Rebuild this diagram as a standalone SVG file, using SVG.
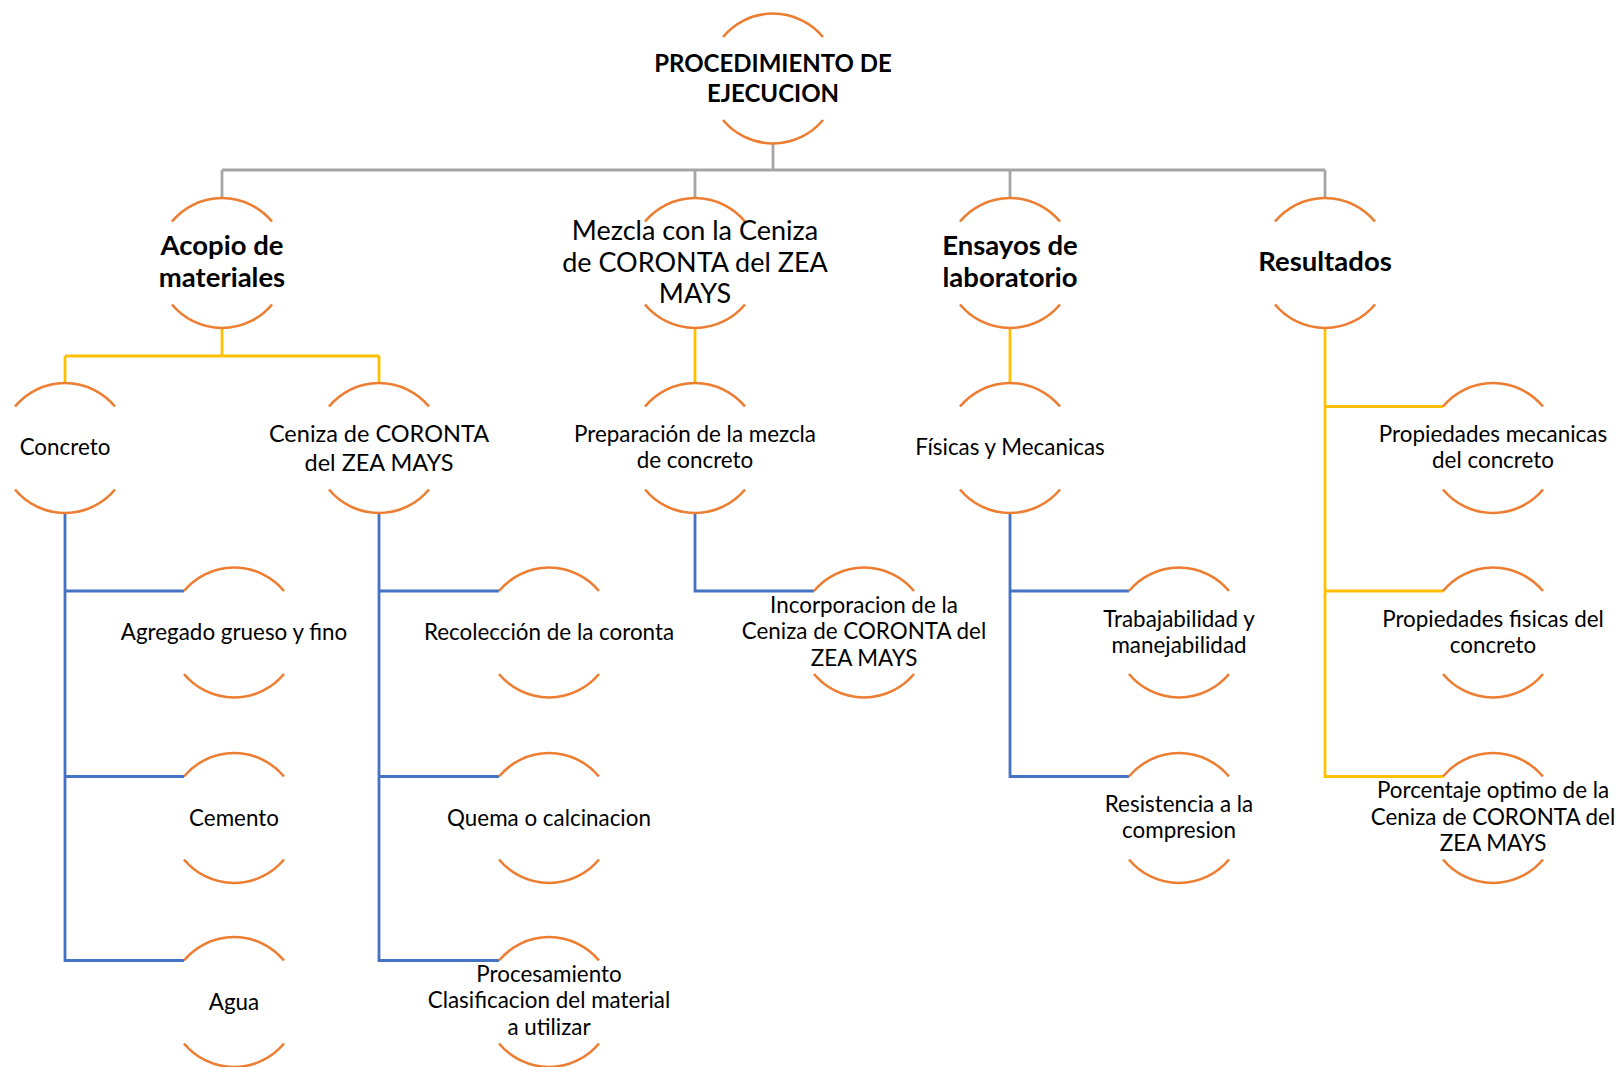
<svg xmlns="http://www.w3.org/2000/svg" width="1617" height="1067" viewBox="0 0 1617 1067">
<style>
.arc{fill:none;stroke:#ED7D31;stroke-width:2.6}
.g{fill:none;stroke:#A5A5A5;stroke-width:2.8}
.y{fill:none;stroke:#FFC000;stroke-width:2.8}
.b{fill:none;stroke:#4472C4;stroke-width:2.8}
text{font-family:Lato,"Liberation Sans",sans-serif;fill:#000;text-anchor:middle}
.s{font-size:22.4px}
.m{font-size:23.5px}
.ml{font-size:27px}
.h{font-size:24px;font-weight:bold}
.hb{font-size:27.5px;font-weight:bold}
</style>
<defs>
<g id="c">
<path class="arc" d="M-50,-41.5 A65,65 0 0 1 50,-41.5"/>
<path class="arc" d="M-50,41.5 A65,65 0 0 0 50,41.5"/>
</g>
</defs>
<rect width="1617" height="1067" fill="#fff"/>
<g id="connectors">
<path class="g" d="M773,144 V170 M222,170 H1325 M222,170 V198 M695,170 V198 M1010,170 V198 M1325,170 V198"/>
<path class="y" d="M222,328 V356 M65,356 H379 M65,356 V383 M379,356 V383 M695,328 V383 M1010,328 V383 M1325,328 V776.5 H1443 M1325,406.5 H1443 M1325,591 H1443"/>
<path class="b" d="M65,513 V960.5 H184 M65,591 H184 M65,776.5 H184"/>
<path class="b" d="M379,513 V960.5 H499 M379,591 H499 M379,776.5 H499"/>
<path class="b" d="M695,513 V591 H814"/>
<path class="b" d="M1010,513 V776.5 H1129 M1010,591 H1129"/>
</g>
<g id="root"><use href="#c" x="773" y="78.5"/><text class="h" x="773" y="72">PROCEDIMIENTO DE</text><text class="h" x="773" y="102">EJECUCION</text></g>
<g id="acopio"><use href="#c" x="222" y="263"/><text class="hb" x="222" y="255">Acopio de</text><text class="hb" x="222" y="287">materiales</text></g>
<g id="mezcla"><use href="#c" x="695" y="263"/><text class="ml" x="695" y="240">Mezcla con la Ceniza</text><text class="ml" x="695" y="272">de CORONTA del ZEA</text><text class="ml" x="695" y="303">MAYS</text></g>
<g id="ensayos"><use href="#c" x="1010" y="263"/><text class="hb" x="1010" y="255">Ensayos de</text><text class="hb" x="1010" y="287">laboratorio</text></g>
<g id="resultados"><use href="#c" x="1325" y="263"/><text class="hb" x="1325" y="271">Resultados</text></g>
<g id="concreto"><use href="#c" x="65" y="448"/><text class="s" x="65" y="455">Concreto</text></g>
<g id="ceniza"><use href="#c" x="379" y="448"/><text class="m" x="379" y="442">Ceniza de CORONTA</text><text class="m" x="379" y="471">del ZEA MAYS</text></g>
<g id="preparacion"><use href="#c" x="695" y="448"/><text class="s" x="695" y="442">Preparación de la mezcla</text><text class="s" x="695" y="468">de concreto</text></g>
<g id="fisicas"><use href="#c" x="1010" y="448"/><text class="s" x="1010" y="455">Físicas y Mecanicas</text></g>
<g id="propmec"><use href="#c" x="1493" y="448"/><text class="s" x="1493" y="442">Propiedades mecanicas</text><text class="s" x="1493" y="468">del concreto</text></g>
<g id="agregado"><use href="#c" x="234" y="632.5"/><text class="s" x="234" y="640">Agregado grueso y fino</text></g>
<g id="recoleccion"><use href="#c" x="549" y="632.5"/><text class="s" x="549" y="640">Recolección de la coronta</text></g>
<g id="incorporacion"><use href="#c" x="864" y="632.5"/><text class="s" x="864" y="613">Incorporacion de la</text><text class="s" x="864" y="639">Ceniza de CORONTA del</text><text class="s" x="864" y="666">ZEA MAYS</text></g>
<g id="trabajabilidad"><use href="#c" x="1179" y="632.5"/><text class="s" x="1179" y="627">Trabajabilidad y</text><text class="s" x="1179" y="653">manejabilidad</text></g>
<g id="propfis"><use href="#c" x="1493" y="632.5"/><text class="s" x="1493" y="627">Propiedades fisicas del</text><text class="s" x="1493" y="653">concreto</text></g>
<g id="cemento"><use href="#c" x="234" y="818"/><text class="s" x="234" y="826">Cemento</text></g>
<g id="quema"><use href="#c" x="549" y="818"/><text class="s" x="549" y="826">Quema o calcinacion</text></g>
<g id="resistencia"><use href="#c" x="1179" y="818"/><text class="s" x="1179" y="812">Resistencia a la</text><text class="s" x="1179" y="838">compresion</text></g>
<g id="porcentaje"><use href="#c" x="1493" y="818"/><text class="s" x="1493" y="798">Porcentaje optimo de la</text><text class="s" x="1493" y="825">Ceniza de CORONTA del</text><text class="s" x="1493" y="851">ZEA MAYS</text></g>
<g id="agua"><use href="#c" x="234" y="1002"/><text class="s" x="234" y="1010">Agua</text></g>
<g id="procesamiento"><use href="#c" x="549" y="1002"/><text class="s" x="549" y="982">Procesamiento</text><text class="s" x="549" y="1008">Clasificacion del material</text><text class="s" x="549" y="1035">a utilizar</text></g>
</svg>
